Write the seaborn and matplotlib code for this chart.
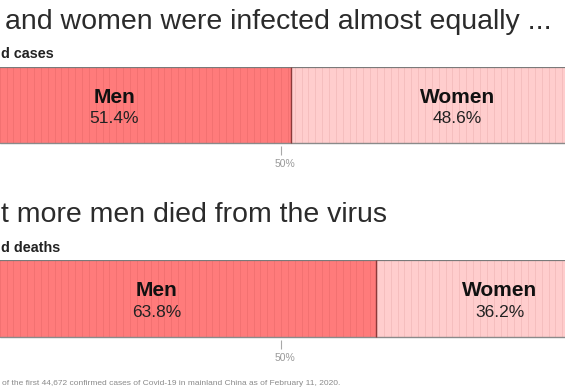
import numpy as np
import pandas as pd
import matplotlib
matplotlib.use("Agg")
import matplotlib.pyplot as plt
from matplotlib.transforms import ScaledTranslation
import seaborn as sns

# ---- data (text as visible in the cropped reference) ----
groups = ["Men", "Women"]
cases_pct = [51.4, 48.6]
deaths_pct = [63.8, 36.2]
panel_titles = ["and women were infected almost equally ...",
                "t more men died from the virus"]
panel_subtitles = ["d cases", "d deaths"]
tick_label = "50%"
footnote = ("of the first 44,672 confirmed cases of Covid-19 "
            "in mainland China as of February 11, 2020.")

sns.set_style("white")
plt.rcParams["font.family"] = ["Liberation Sans", "DejaVu Sans"]

MEN_C = "#FF7B7B"
WOMEN_C = "#FFCDCD"

W, H = 565, 392
fig = plt.figure(figsize=(W / 100, H / 100), dpi=100)


def rect(y_top, y_bot):
    return [0, 1 - y_bot / H, 1, (y_bot - y_top) / H]


def fx(px):
    return px / W


def fy(py):
    return 1 - py / H


def draw_panel(ax, values, bar_px):
    men, women = values
    df = pd.DataFrame({"row": ["share"], "total": [men + women], "men": [men]})
    sns.barplot(data=df, x="total", y="row", color=WOMEN_C, orient="h",
                width=0.8, linewidth=0, saturation=1, ax=ax)
    sns.barplot(data=df, x="men", y="row", color=MEN_C, orient="h",
                width=0.8, linewidth=0, saturation=1, ax=ax)
    # unit stripes (1% each)
    xs = np.arange(1, 100)
    ax.vlines(xs[xs < men], -0.4, 0.4, color="#c04848", alpha=0.22, lw=0.6, zorder=3)
    ax.vlines(xs[xs > men], -0.4, 0.4, color="#d08a8a", alpha=0.25, lw=0.6, zorder=3)
    # borders
    ax.axhline(-0.4, color="#7a7a7a", lw=1.6, zorder=4)
    ax.axhline(0.4, color="#8a8a8a", lw=1.0, zorder=4)
    ax.vlines([men], -0.4, 0.4, color="#8b3a3a", lw=1.0, zorder=4)
    # labels
    for name, center, val in [(groups[0], men / 2, men),
                              (groups[1], men + women / 2, women)]:
        ax.text(center, -0.021, name, ha="center", va="baseline",
                fontsize=15, fontweight="bold", color="#111111", zorder=5)
        ax.text(center, 0.189, f"{val:.1f}%", ha="center", va="baseline",
                fontsize=12.5, color="#222222", zorder=5)
    gap = 3 * 0.8 / bar_px
    ax.set_ylim(0.4 + gap, -0.4)
    ax.set_xlim(9.04, 91.4)
    for s in ax.spines.values():
        s.set_visible(False)
    ax.set_yticks([])
    ax.set_ylabel("")
    ax.set_xlabel("")
    ax.set_xticks([50])
    ax.set_xticklabels([tick_label])
    ax.tick_params(axis="x", length=6.5, width=0.8, color="#a8a8a8",
                   labelcolor="#9a9a9a", labelsize=7.5, pad=3, bottom=True)
    for lab in ax.get_xticklabels():
        lab.set_transform(lab.get_transform() +
                          ScaledTranslation(4 / 100, 0, fig.dpi_scale_trans))


ax1 = fig.add_axes(rect(67, 146))
draw_panel(ax1, cases_pct, 76)
ax2 = fig.add_axes(rect(260, 340))
draw_panel(ax2, deaths_pct, 77)

fig.text(fx(5), fy(29), panel_titles[0], ha="left", va="baseline",
         fontsize=20.5, color="#2b2b2b")
fig.text(fx(1), fy(58), panel_subtitles[0], ha="left", va="baseline",
         fontsize=10.4, fontweight="bold", color="#222222")
fig.text(fx(1), fy(222), panel_titles[1], ha="left", va="baseline",
         fontsize=20.5, color="#2b2b2b")
fig.text(fx(1), fy(252), panel_subtitles[1], ha="left", va="baseline",
         fontsize=10.4, fontweight="bold", color="#222222")
fig.text(fx(2), fy(385), footnote, ha="left", va="baseline",
         fontsize=6.0, color="#8a8a8a")

fig.savefig("out.png", dpi=100)
